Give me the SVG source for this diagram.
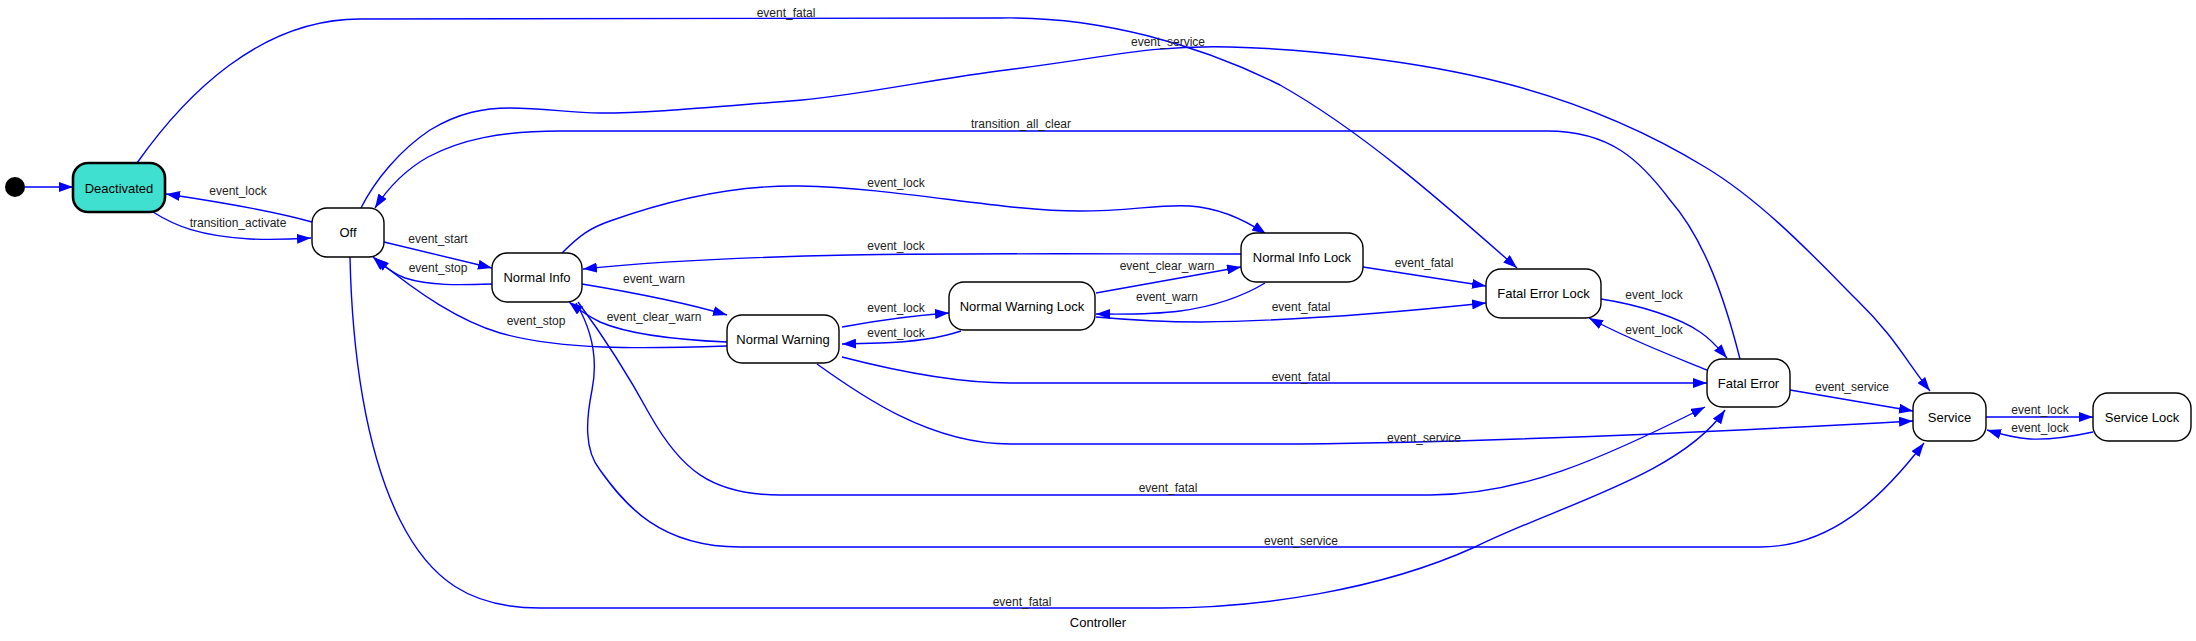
<svg xmlns="http://www.w3.org/2000/svg" width="2196" height="641" viewBox="0 0 2196 641">
<defs>
<marker id="arr" markerWidth="14" markerHeight="10" refX="14" refY="5" orient="auto" markerUnits="userSpaceOnUse">
<path d="M0,0 L14,5 L0,10 z" fill="#0000ff"/>
</marker>
<style>
.n rect{fill:#ffffff;stroke:#000;stroke-width:1.4}
.n text{font-family:"Liberation Sans",Arial,sans-serif;font-size:13px;fill:#000;text-anchor:middle}
.e path{fill:none;stroke:#0000ff;stroke-width:1.4;marker-end:url(#arr)}
.e text{font-family:"Liberation Sans",Arial,sans-serif;font-size:12px;fill:#222;text-anchor:middle}
.t{font-family:"Liberation Sans",Arial,sans-serif;font-size:13px;fill:#000;text-anchor:middle}
</style>
</defs>
<rect width="2196" height="641" fill="#fff"/>
<g id="connectors" class="e">
<path d="M25,187 L73,187"/>
<path d="M153,212 C175,226 200,236 250,239 C275,240 295,239 311,238"/>
<text x="238" y="227">transition_activate</text>
<path d="M312,222 C280,213 220,202 166,194"/>
<text x="238" y="195">event_lock</text>
<path d="M384,242 L492,268"/>
<text x="438" y="243">event_start</text>
<path d="M492,284 C460,285 430,286 405,278 C392,273 382,265 373,257"/>
<text x="438" y="272">event_stop</text>
<path d="M727,346 C640,349 560,350 500,333 C460,321 420,295 375,258"/>
<text x="536" y="325">event_stop</text>
<path d="M582,284 C630,292 690,304 727,315"/>
<text x="654" y="283">event_warn</text>
<path d="M727,342 C680,340 630,335 600,322 C590,317 578,309 569,302"/>
<text x="654" y="321">event_clear_warn</text>
<path d="M842,327 C880,320 920,315 949,313"/>
<text x="896" y="312">event_lock</text>
<path d="M961,331 C940,338 915,342 880,343 L842,344"/>
<text x="896" y="337">event_lock</text>
<path d="M1096,293 L1241,267"/>
<text x="1167" y="270">event_clear_warn</text>
<path d="M1265,283 C1240,298 1210,307 1180,311 C1150,315 1120,314 1096,314"/>
<text x="1167" y="301">event_warn</text>
<path d="M562,253 C580,235 590,228 610,221 C680,196 740,185 800,186 C900,188 1000,211 1080,211 C1130,211 1160,204 1190,206 C1220,208 1248,222 1266,234"/>
<text x="896" y="187">event_lock</text>
<path d="M1241,254 C1100,254 950,253 850,255 C750,257 650,262 583,269"/>
<text x="896" y="250">event_lock</text>
<path d="M1363,267 L1486,286"/>
<text x="1424" y="267">event_fatal</text>
<path d="M1096,317 C1130,320 1160,322 1200,322 C1300,321 1400,312 1486,303"/>
<text x="1301" y="311">event_fatal</text>
<path d="M137,163 C185,95 260,19 360,19 L1000,18 C1100,16 1200,45 1280,85 C1360,130 1440,200 1517,268"/>
<text x="786" y="17">event_fatal</text>
<path d="M361,208 C375,180 400,150 430,130 C460,112 485,108 510,108 C545,108 570,113 600,113 C650,113 700,108 802,100 C860,95 940,78 1006,70 C1111,57 1148,45 1230,47 C1312,49 1421,62 1500,82 C1579,102 1646,131 1705,167 C1765,203 1820,263 1857,300 C1895,337 1906,361 1930,391"/>
<text x="1168" y="46">event_service</text>
<path d="M1740,359 C1725,300 1705,240 1670,200 C1640,160 1610,131 1547,131 L560,131 C500,131 460,140 428,157 C405,170 388,188 375,208"/>
<text x="1021" y="128">transition_all_clear</text>
<path d="M1601,299 C1640,305 1680,318 1700,332 C1712,340 1720,350 1727,358"/>
<text x="1654" y="299">event_lock</text>
<path d="M1707,370 C1670,355 1630,340 1589,318"/>
<text x="1654" y="334">event_lock</text>
<path d="M842,357 C900,372 960,383 1010,383 L1707,383"/>
<text x="1301" y="381">event_fatal</text>
<path d="M817,364 C860,395 930,444 1010,444 L1300,444 C1500,442 1750,430 1913,421"/>
<text x="1424" y="442">event_service</text>
<path d="M1790,390 L1913,411"/>
<text x="1852" y="391">event_service</text>
<path d="M1986,417 L2093,417"/>
<text x="2040" y="414">event_lock</text>
<path d="M2093,432 C2070,437 2050,440 2030,439 C2015,438 2000,434 1987,430"/>
<text x="2040" y="432">event_lock</text>
<path d="M578,302 C595,325 620,360 650,415 C680,468 710,495 780,495 L1430,495 C1520,495 1600,460 1705,407"/>
<text x="1168" y="492">event_fatal</text>
<path d="M576,303 C592,330 598,360 592,390 C586,420 584,450 600,470 C625,505 660,547 740,547 L1760,547 C1830,547 1880,500 1924,443"/>
<text x="1301" y="545">event_service</text>
<path d="M350,257 C352,350 365,450 400,520 C430,580 470,608 540,608 L1160,608 C1260,608 1380,590 1475,547 C1560,505 1680,475 1725,410"/>
<text x="1022" y="606">event_fatal</text>
</g>
<g id="initial"><circle cx="15" cy="187" r="10" fill="#000"/></g>
<g id="Deactivated" class="n"><rect x="73" y="163" width="92" height="49" rx="15" style="fill:#40e0d0;stroke-width:2.6"/><text x="119" y="192.5">Deactivated</text></g>
<g id="Off" class="n"><rect x="312" y="208" width="72" height="49" rx="15"/><text x="348" y="237">Off</text></g>
<g id="NormalInfo" class="n"><rect x="492" y="253" width="90" height="49" rx="15"/><text x="537" y="282">Normal Info</text></g>
<g id="NormalWarning" class="n"><rect x="727" y="315" width="112" height="48" rx="15"/><text x="783" y="344">Normal Warning</text></g>
<g id="NormalWarningLock" class="n"><rect x="949" y="282" width="146" height="48" rx="15"/><text x="1022" y="310.5">Normal Warning Lock</text></g>
<g id="NormalInfoLock" class="n"><rect x="1241" y="233" width="122" height="49" rx="15"/><text x="1302" y="262">Normal Info Lock</text></g>
<g id="FatalErrorLock" class="n"><rect x="1486" y="269" width="115" height="49" rx="15"/><text x="1543.5" y="298">Fatal Error Lock</text></g>
<g id="FatalError" class="n"><rect x="1707" y="359" width="83" height="48" rx="15"/><text x="1748.5" y="387.5">Fatal Error</text></g>
<g id="Service" class="n"><rect x="1913" y="393" width="73" height="48" rx="15"/><text x="1949.5" y="421.5">Service</text></g>
<g id="ServiceLock" class="n"><rect x="2093" y="393" width="98" height="48" rx="15"/><text x="2142" y="421.5">Service Lock</text></g>
<text class="t" x="1098" y="627">Controller</text>
</svg>
